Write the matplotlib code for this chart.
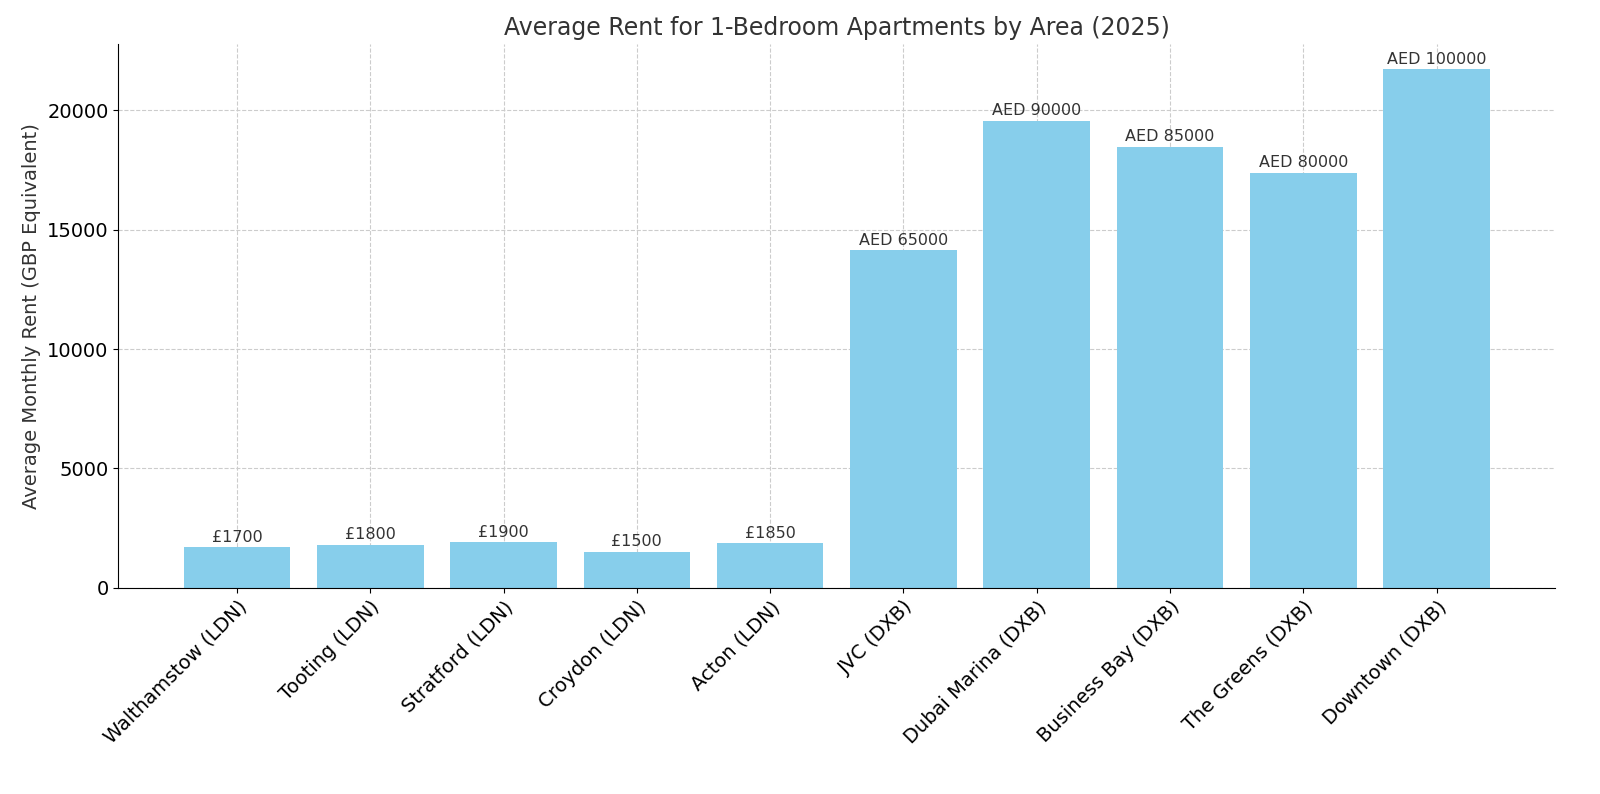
import matplotlib.pyplot as plt

areas = ["Walthamstow (LDN)", "Tooting (LDN)", "Stratford (LDN)", "Croydon (LDN)", "Acton (LDN)",
         "JVC (DXB)", "Dubai Marina (DXB)", "Business Bay (DXB)", "The Greens (DXB)", "Downtown (DXB)"]
rent_gbp = [1700, 1800, 1900, 1500, 1850, 14130, 19565, 18478, 17391, 21739]
labels = ["£1700", "£1800", "£1900", "£1500", "£1850",
          "AED 65000", "AED 90000", "AED 85000", "AED 80000", "AED 100000"]

fig = plt.figure(figsize=(16, 7.94), dpi=100)
ax = fig.add_axes([0.074, 0.26, 0.898, 0.685])
bars = ax.bar(areas, rent_gbp, color="skyblue", width=0.8)
for b, lab in zip(bars, labels):
    ax.text(b.get_x() + b.get_width() / 2, b.get_height() + 100, lab,
            ha="center", va="bottom", fontsize=11.5, color="#333333")

ax.set_title("Average Rent for 1-Bedroom Apartments by Area (2025)", fontsize=17, color="#333333")
ax.set_ylabel("Average Monthly Rent (GBP Equivalent)", fontsize=14, color="#333333")
ax.set_ylim(0, 22800)
ax.set_xlim(-0.89, 9.89)
ax.grid(True, linestyle="--", color="#cccccc", linewidth=0.8)
ax.set_axisbelow(True)
ax.spines["top"].set_visible(False)
ax.spines["right"].set_visible(False)
plt.setp(ax.get_xticklabels(), rotation=45, ha="right", rotation_mode="anchor", fontsize=14)
ax.tick_params(axis="y", labelsize=14)
fig.savefig("out.png")
